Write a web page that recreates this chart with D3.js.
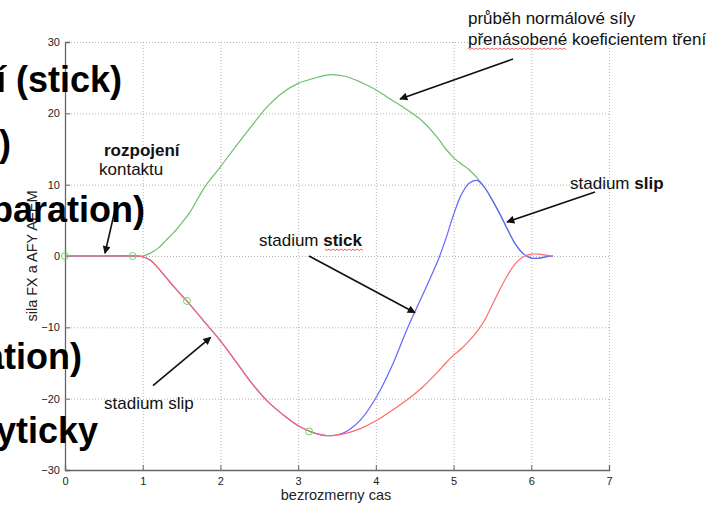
<!DOCTYPE html>
<html><head><meta charset="utf-8">
<script src="https://cdn.jsdelivr.net/npm/d3@7"></script>
<style>
body{margin:0;background:#fff}
svg{display:block;font-family:"Liberation Sans",Arial,Helvetica,sans-serif}
</style>
</head><body>
<svg id="c" width="728" height="505"></svg>
<script>
// ---- data ----
const t = [0,0.5,0.9,1.0,1.1,1.2,1.3,1.4,1.5,1.6,1.8,2.0,2.2,2.4,2.6,2.8,3.0,3.2,3.4,3.6,3.8,4.0,4.2,4.4,4.6,4.8,4.9,5.0,5.1,5.2,5.3,5.4,5.5,5.6,5.7,5.8,5.9,6.0,6.1,6.2,6.28];
const normalFriction = [0,0,0,0,0.4,1.1,2.2,3.3,4.6,6.0,9.7,12.5,15.4,18.2,20.9,22.9,24.2,24.9,25.4,25.2,24.4,23.3,21.9,20.5,18.9,16.5,15.0,13.8,12.9,12.1,11.0,9.6,7.8,5.8,3.6,1.6,0.3,-0.3,-0.3,-0.1,0];
const forceBlue = [0,0,0,-0.1,-0.6,-1.7,-3.0,-4.3,-5.5,-6.7,-9.3,-11.9,-14.8,-17.8,-20.3,-22.2,-23.8,-24.8,-25.2,-24.7,-23.0,-19.9,-15.6,-10.3,-5.5,-0.6,2.4,5.8,8.6,10.2,10.6,9.6,7.8,5.8,3.6,1.6,0.3,-0.3,-0.3,-0.1,0];
const forceRed = [0,0,0,-0.1,-0.6,-1.7,-3.0,-4.3,-5.5,-6.7,-9.3,-11.9,-14.8,-17.8,-20.3,-22.2,-23.8,-24.8,-25.2,-24.9,-24.2,-23.1,-21.7,-20.2,-18.4,-16.2,-15.0,-13.9,-13.0,-11.9,-10.6,-9.0,-6.8,-4.6,-2.6,-1.0,-0.1,0.25,0.25,0.1,0];
const markerT = [0,0.87,1.57,3.14];
const markerF = [0,0,-6.3,-24.6];
const xTicks = [0,1,2,3,4,5,6,7];
const yTicks = [-30,-20,-10,0,10,20,30];
// annotation arrows in data units: [x0,y0,x1,y1]
const arrows = [
  [5.765,27.62,4.311,22.01],
  [6.820,8.97,5.688,4.77],
  [3.140,0.0,4.504,-7.95],
  [1.132,-18.18,1.875,-11.40],
  [0.643,6.45,0.515,0.38]
];

const svg = d3.select("#c");
const x = d3.scaleLinear().domain([0,7]).range([65,609]);
const y = d3.scaleLinear().domain([-30,30]).range([470,42]);

// grid
const grid = svg.append("g").attr("stroke","#b4b4b4").attr("stroke-dasharray","1,2").attr("stroke-width",1);
xTicks.filter(d=>d>0).forEach(d=>{
  grid.append("line").attr("x1",x(d)+0.5).attr("x2",x(d)+0.5).attr("y1",y(30)).attr("y2",y(-30));
});
yTicks.filter(d=>d>-30).forEach(d=>{
  grid.append("line").attr("x1",x(0)).attr("x2",x(7)).attr("y1",y(d)+0.5).attr("y2",y(d)+0.5);
});

// axes
const xAxis = d3.axisBottom(x).tickValues(xTicks).tickSize(-5).tickPadding(7).tickFormat(d3.format("d"));
const yAxis = d3.axisLeft(y).tickValues(yTicks).tickSize(-5).tickPadding(5).tickFormat(d3.format("d"));
const gx = svg.append("g").attr("transform",`translate(0,${y(-30)})`).call(xAxis);
const gy = svg.append("g").attr("transform",`translate(${x(0)},0)`).call(yAxis);
[gx,gy].forEach(g=>{
  g.select(".domain").attr("stroke","#666").attr("stroke-width",1.3);
  g.selectAll(".tick line").attr("stroke","#666");
  g.selectAll(".tick text").attr("fill","#222").style("font-size","11px").style("font-family","Liberation Sans, Arial, sans-serif");
});

// lines
const line = (ys)=>d3.line().x((d,i)=>x(t[i])).y((d,i)=>y(ys[i])).curve(d3.curveCatmullRom.alpha(0.5))(ys);
svg.append("path").attr("d",line(normalFriction)).attr("fill","none").attr("stroke","#6cbf6c").attr("stroke-width",1.2);
svg.append("path").attr("d",line(forceBlue)).attr("fill","none").attr("stroke","#6464ff").attr("stroke-width",1.2);
svg.append("path").attr("d",line(forceRed)).attr("fill","none").attr("stroke","#ff6a6a").attr("stroke-width",1.2);

// circle markers
svg.append("g").selectAll("circle").data(markerT).join("circle")
  .attr("cx",(d)=>x(d)).attr("cy",(d,i)=>y(markerF[i])).attr("r",3.5)
  .attr("fill","none").attr("stroke","#5fdc5f").attr("stroke-width",1);

// axis labels
svg.append("text").attr("x",336).attr("y",500).attr("text-anchor","middle")
  .style("font-size","14.5px").attr("fill","#222").text("bezrozmerny cas");
svg.append("text").attr("transform","translate(36.5,256) rotate(-90)").attr("text-anchor","middle")
  .style("font-size","14.5px").attr("fill","#222").text("sila FX a AFY  AFEM");

// arrows
const defs = svg.append("defs");
defs.append("marker").attr("id","ah").attr("viewBox","0 0 10 10").attr("refX",9).attr("refY",5)
  .attr("markerWidth",10).attr("markerHeight",8).attr("markerUnits","userSpaceOnUse").attr("orient","auto")
  .append("path").attr("d","M0,0 L10,5 L0,10 z").attr("fill","#111");
svg.append("g").selectAll("line").data(arrows).join("line")
  .attr("x1",d=>x(d[0])).attr("y1",d=>y(d[1])).attr("x2",d=>x(d[2])).attr("y2",d=>y(d[3]))
  .attr("stroke","#111").attr("stroke-width",1.6).attr("marker-end","url(#ah)");

// annotation texts
const ann = svg.append("g").style("font-size","17px").attr("fill","#111");
ann.append("text").attr("x",468).attr("y",24).text("průběh normálové síly");
ann.append("text").attr("x",468).attr("y",45).text("přenásobené koeficientem tření");
const t1 = ann.append("text").attr("x",570).attr("y",189);
t1.append("tspan").text("stadium ");
t1.append("tspan").attr("font-weight","bold").text("slip");
const t2 = ann.append("text").attr("x",259).attr("y",246);
t2.append("tspan").text("stadium ");
t2.append("tspan").attr("font-weight","bold").text("stick");
ann.append("text").attr("x",104).attr("y",156).attr("font-weight","bold").text("rozpojení");
ann.append("text").attr("x",99).attr("y",175).text("kontaktu");
ann.append("text").attr("x",104).attr("y",409).text("stadium slip");

// spell-check squiggles
function squiggle(x0,x1,yy){
  let p = `M${x0},${yy}`;
  let k=0;
  for(let xx=x0+2; xx<=x1; xx+=2){ k++; p += ` L${xx},${yy+(k%2?1.5:0)}`; }
  svg.append("path").attr("d",p).attr("fill","none").attr("stroke","#e04040").attr("stroke-width",0.8);
}
squiggle(468,567,48);
squiggle(325,364,249);

// big overlapping slide text (clipped at the left edge)
const big = svg.append("g").style("font-size","36px").attr("font-weight","bold").attr("fill","#000").attr("text-anchor","end");
big.append("text").attr("x",122).attr("y",92).text("í (stick)");
big.append("text").attr("x",11).attr("y",156).text(")");
big.append("text").attr("x",145).attr("y",222).text("paration)");
big.append("text").attr("x",82).attr("y",369).text("ation)");
big.append("text").attr("x",98).attr("y",443).text("yticky");
</script>
</body></html>
